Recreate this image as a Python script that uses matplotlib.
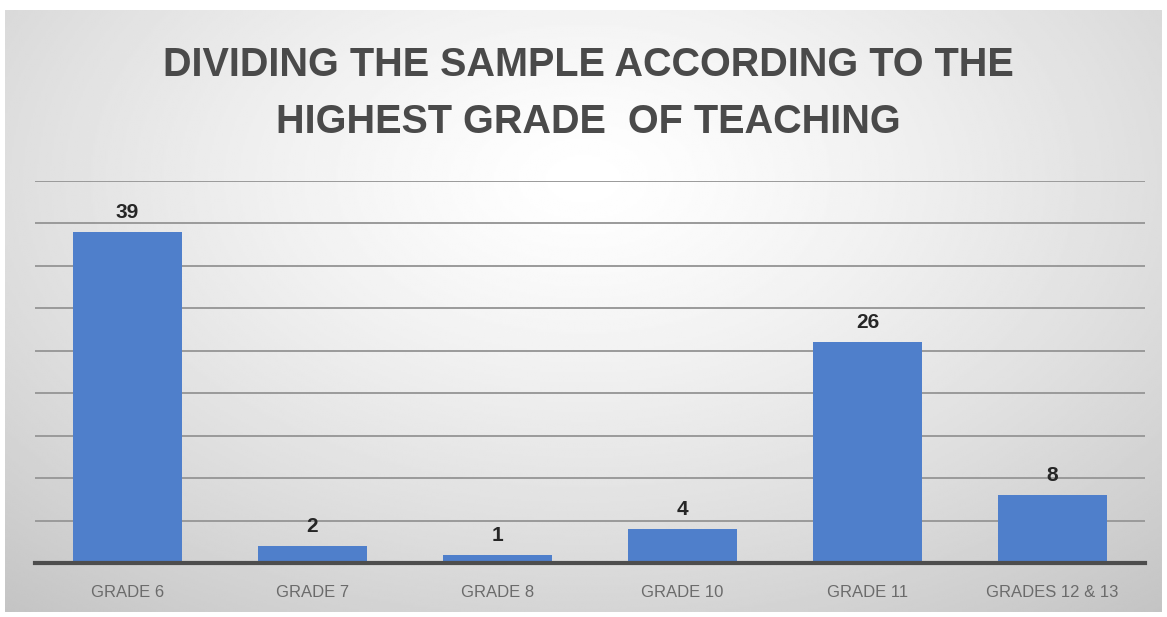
import numpy as np
import matplotlib.pyplot as plt

# donnees
grades = ["GRADE 6", "GRADE 7", "GRADE 8", "GRADE 10", "GRADE 11", "GRADES 12 & 13"]
counts = [39, 2, 1, 4, 26, 8]

plt.rcParams['font.family'] = ['Liberation Sans Narrow', 'Liberation Sans', 'DejaVu Sans']

fig = plt.figure(figsize=(11.67, 6.17), dpi=100)
fig.patch.set_facecolor("white")

# fond gris en degrade radial
bg = fig.add_axes([5 / 1167, 5 / 617, 1157 / 1167, 602 / 617])
bg.set_axis_off()
yy, xx = np.mgrid[0:1:300j, 0:1:600j]
r = np.sqrt(((xx - 0.5) / 0.75) ** 2 + ((yy - 0.72) / 0.9) ** 2)
shade = 1.0 - 0.22 * np.clip(r, 0, 1.2) ** 1.3
bg.imshow(shade, cmap="gray", vmin=0, vmax=1, aspect="auto",
          extent=[0, 1, 0, 1], origin="lower", interpolation="bilinear")

ax = fig.add_axes([35 / 1167, 54 / 617, 1110 / 1167, 382.5 / 617])
ax.patch.set_alpha(0)
x = np.arange(len(grades))
bars = ax.bar(x, counts, width=0.59, color="#4f7fcb", zorder=3)
ax.set_xlim(-0.5, len(grades) - 0.5)
ax.set_ylim(0, 45)
ax.set_yticks(np.arange(5, 46, 5))
ax.yaxis.grid(True, color="#9a9a9a", linewidth=1.4, zorder=0)
ax.tick_params(axis="y", left=False, labelleft=False)
ax.tick_params(axis="x", bottom=False, pad=12, labelsize=12, labelcolor="#6b6b6b")
ax.set_xticks(x)
ax.set_xticklabels(grades)
for s in ["top", "right", "left"]:
    ax.spines[s].set_visible(False)
ax.spines["bottom"].set_color("#4d4d4d")
ax.spines["bottom"].set_linewidth(3)
ax.spines["bottom"].set_zorder(4)

for b, v in zip(bars, counts):
    ax.annotate(str(v), (b.get_x() + b.get_width() / 2, v), xytext=(0, 7),
                textcoords="offset points", ha="center", va="bottom",
                fontsize=15, fontweight="bold", color="#262626")

fig.text(0.504, 1 - 65 / 617, "DIVIDING THE SAMPLE ACCORDING TO THE",
         ha="center", va="center", fontsize=28.5, fontweight="bold", color="#4a4a4a")
fig.text(0.504, 1 - 122 / 617, "HIGHEST GRADE  OF TEACHING",
         ha="center", va="center", fontsize=28.5, fontweight="bold", color="#4a4a4a")

fig.savefig("out.png", dpi=100)
